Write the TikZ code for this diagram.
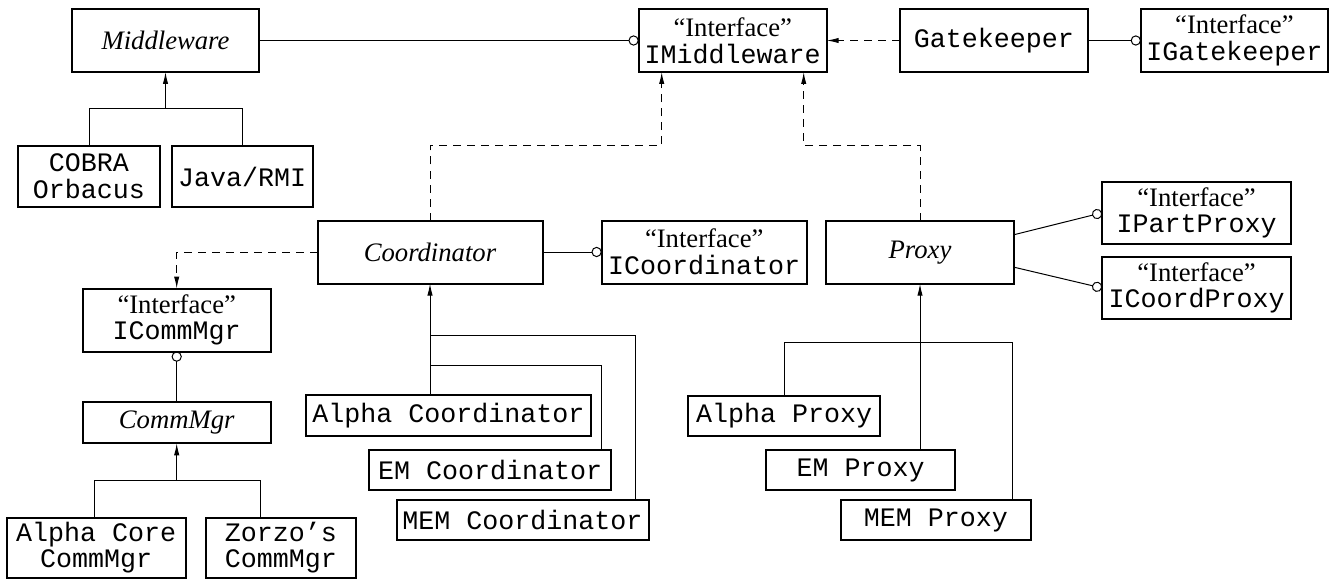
\documentclass[tikz,border=0pt]{standalone}
\usepackage{fontspec}
\setmainfont{Liberation Serif}
\setmonofont{Liberation Mono}
\usetikzlibrary{arrows.meta,calc}

\newcommand{\iface}[1]{``Interface''\\\texttt{#1}}

\begin{document}
\begin{tikzpicture}
[x=0.45pt,y=-0.45pt,
 every node/.style={draw=black,line width=0.9pt,inner sep=0pt,outer sep=0pt,align=center,font=\fontsize{12}{12}\selectfont},
 sz/.style 2 args={minimum width=#1*0.45pt,minimum height=#2*0.45pt},
 abs/.style={font=\fontsize{12}{12}\selectfont\itshape},
 impl/.style={font=\fontsize{12}{12}\selectfont\ttfamily},
 isa/.style={-{Latex[length=5.4pt,width=2.4pt]}},
 dep/.style={dash pattern=on 3.6pt off 2.7pt,-{Latex[length=5.4pt,width=2.4pt]}},
 lolli/.style={-{Circle[open,length=4.6pt]}},
 line width=0.45pt]
\useasboundingbox (0,0) rectangle (1335,581);

% top row
\node[abs,sz={187}{63}]  (mw)  at (165.5,40.5)  {Middleware};
\node[sz={188}{63}]      (imw) at (732.7,40.5)  {\iface{IMiddleware}};
\node[impl,sz={188}{63}] (gk)  at (993.8,40.5)  {Gatekeeper};
\node[sz={187}{63}]      (igk) at (1234.4,40.5) {\iface{IGatekeeper}};
\node[impl,sz={142}{61}] (cobra) at (89,176.5)  {COBRA\\Orbacus};
\node[impl,sz={141}{61}] (java)  at (242.2,176.5) {Java/RMI};

% middle row
\node[abs,sz={225}{63}]  (coord)  at (430,252)    {Coordinator};
\node[sz={205}{63}]      (icoord) at (704.2,252)  {\iface{ICoordinator}};
\node[abs,sz={188}{63}]  (proxy)  at (920,252.2)  {Proxy};
\node[sz={189}{62}]      (ipp)    at (1196.5,212.8) {\iface{IPartProxy}};
\node[sz={189}{62}]      (icp)    at (1196.5,288)   {\iface{ICoordProxy}};

% comm manager
\node[sz={188}{63}]      (icm) at (176.7,320)   {\iface{ICommMgr}};
\node[abs,sz={188}{41}]  (cm)  at (176.7,422.8) {CommMgr};
\node[impl,sz={179}{60}] (acm) at (96.2,547.5)  {Alpha Core\\CommMgr};
\node[impl,sz={150}{60}] (zcm) at (281,547.5)   {Zorzo’s\\CommMgr};

% implementations
\node[impl,sz={285}{41}] (acoord) at (448.3,415.4) {Alpha Coordinator};
\node[impl,sz={242}{40}] (ecoord) at (490.2,470)   {EM Coordinator};
\node[impl,sz={252}{40}] (mcoord) at (522.5,520)   {MEM Coordinator};
\node[impl,sz={192}{40}] (aprx)   at (784.2,415.7) {Alpha Proxy};
\node[impl,sz={189}{40}] (eprx)   at (860.5,470)   {EM Proxy};
\node[impl,sz={190}{40}] (mprx)   at (935.8,520)   {MEM Proxy};

% interfaces
\draw[lolli] (mw) -- (imw);
\draw[lolli] (gk) -- (igk);
\draw[lolli] (coord) -- (icoord);
\draw[lolli] ($(proxy.east)+(0,-17.5)$) -- (ipp.west);
\draw[lolli] ($(proxy.east)+(0,15)$) -- (icp.west);
\draw[lolli] (cm) -- (icm);

% uses
\draw[dep] (gk) -- (imw);
\draw[dep] (coord.north) -- ++(0,-75) -| ($(imw.south)+(-71,0)$);
\draw[dep] (proxy.north) -- ++(0,-75) -| ($(imw.south)+(71,0)$);
\draw[dep] (coord.west) -| (icm.north);

% inheritance
\draw (cobra.north) -- ++(0,-37) coordinate (mwbus) -| (java.north);
\draw[isa] (mwbus -| mw.south) -- (mw.south);
\draw (acm.north) ++(-2,0) -- ++(0,-37) coordinate (cmbus) -| ($(zcm.north)+(-21,0)$);
\draw[isa] (cmbus -| cm.south) -- (cm.south);
\draw[isa] (coord.south |- acoord.north) -- (coord.south);
\draw ($(coord.south)+(0,52)$) -| ($(mcoord.north east)+(-13,0)$);
\draw ($(coord.south)+(0,82)$) -| ($(ecoord.north east)+(-10,0)$);
\draw[isa] (proxy.south |- eprx.north) -- (proxy.south);
\draw (aprx.north) -- ++(0,-53) -| ($(mprx.north east)+(-18,0)$);
\end{tikzpicture}
\end{document}
